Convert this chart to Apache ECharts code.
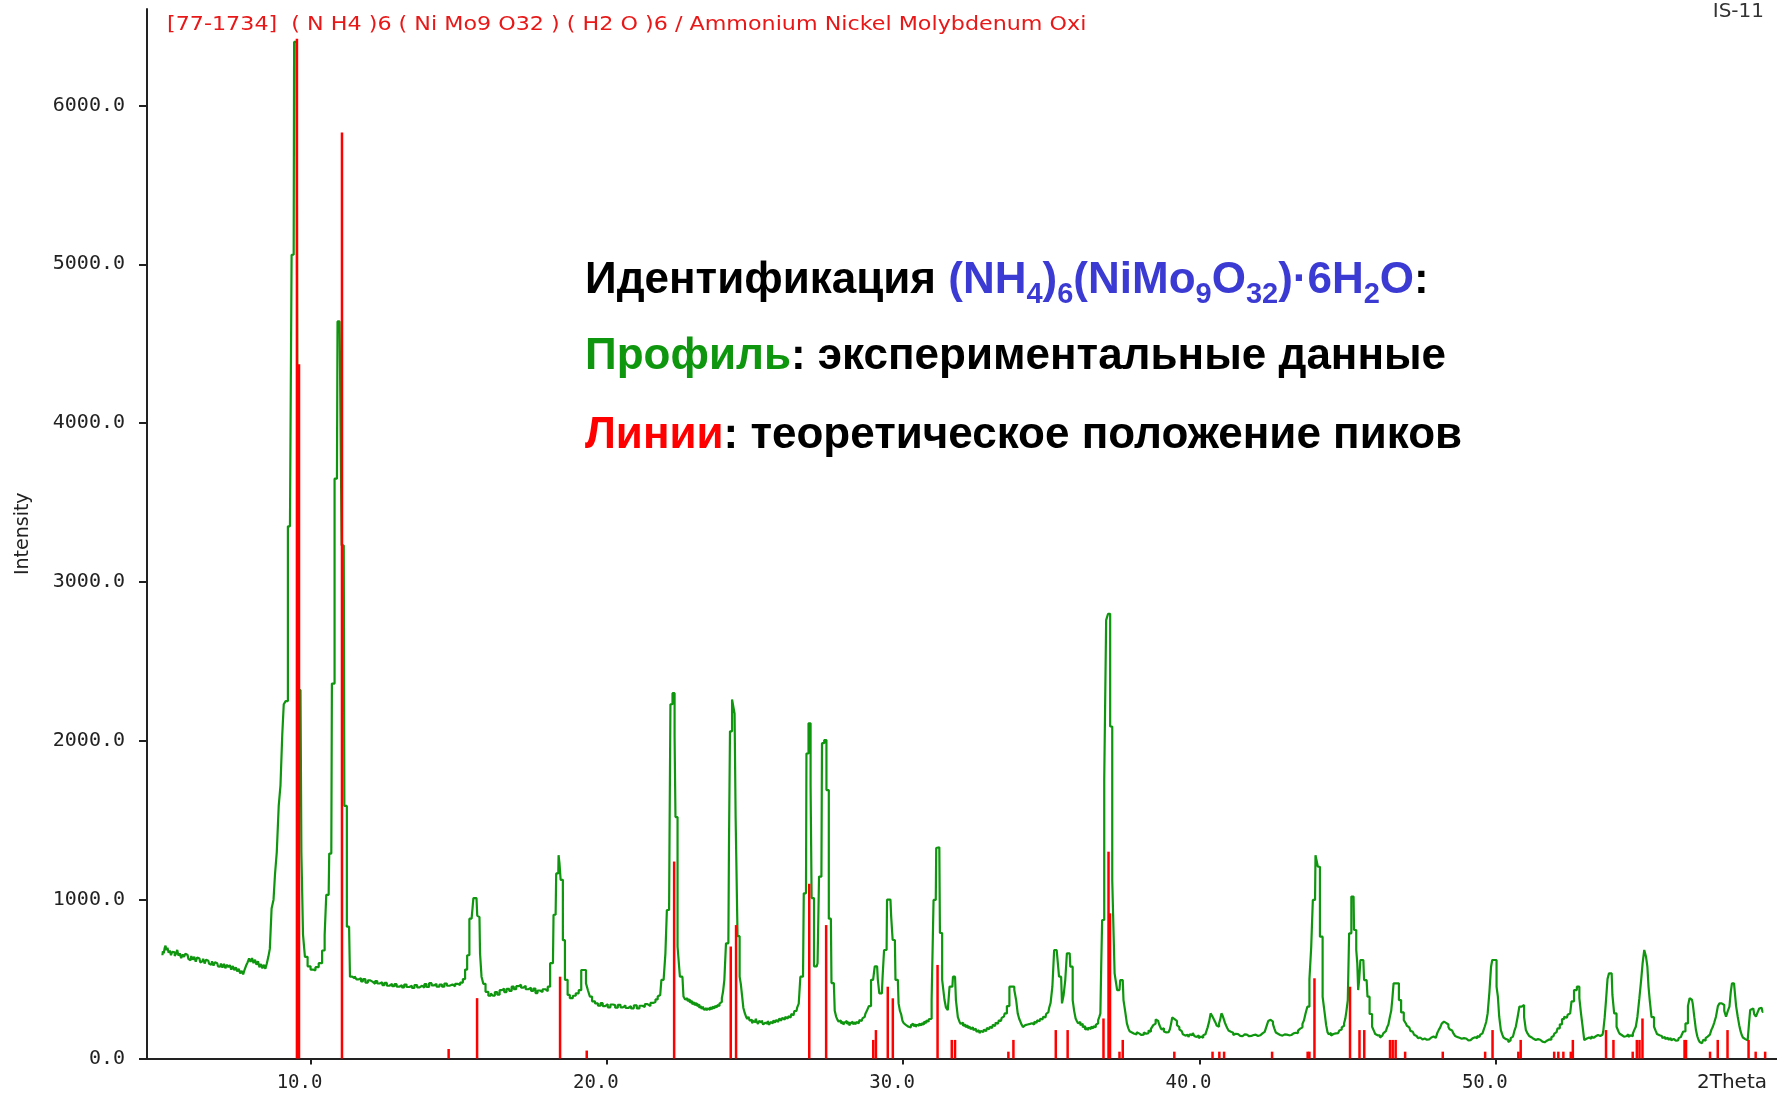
<!DOCTYPE html>
<html>
<head>
<meta charset="utf-8">
<script src="https://cdn.jsdelivr.net/npm/echarts@6/dist/echarts.min.js"></script>
<style>
  html, body { margin: 0; padding: 0; background: #fff; }
  #chart { width: 1777px; height: 1095px; }
</style>
</head>
<body>
<div id="chart"></div>
<script>
// Measured diffraction profile: [2θ, counts]
const profile = [
  [5.00,650],[5.03,675],[5.06,662],[5.09,695],[5.12,710],[5.15,682],[5.19,698],[5.23,665],[5.27,680],[5.31,650],
  [5.35,672],[5.39,668],[5.44,645],[5.48,660],[5.52,684],[5.56,648],[5.61,662],[5.66,632],[5.71,655],[5.75,640],
  [5.80,660],[5.85,652],[5.90,628],[5.95,618],[6.00,645],[6.05,622],[6.10,640],[6.15,610],[6.20,636],[6.25,630],
  [6.30,605],[6.35,612],[6.40,628],[6.45,598],[6.50,622],[6.55,616],[6.60,596],[6.65,590],[6.70,612],[6.75,585],
  [6.80,606],[6.85,600],[6.90,580],[6.95,578],[7.00,598],[7.05,572],[7.10,596],[7.15,568],[7.20,590],[7.25,575],
  [7.30,588],[7.35,560],[7.40,582],[7.45,556],[7.50,574],[7.55,548],[7.60,565],[7.65,535],[7.70,552],[7.75,530],
  [7.80,560],[7.85,585],[7.90,605],[7.95,630],[8.00,608],[8.05,632],[8.10,600],[8.15,622],[8.20,590],[8.25,612],
  [8.30,575],[8.35,595],[8.40,568],[8.45,590],[8.50,565],[8.55,600],[8.60,640],[8.65,690],
  [8.72,944],[8.78,1000],[8.82,1160],[8.90,1300],[8.95,1590],[9.02,1720],[9.07,2040],[9.12,2230],[9.20,2250],
  [9.27,3350],[9.34,3350],[9.38,5060],[9.43,5060],[9.46,6400],[9.53,6400],[9.57,4380],[9.60,2320],[9.66,2320],
  [9.72,1300],[9.77,780],[9.85,640],[9.95,580],[10.05,560],[10.11,555],[10.22,575],[10.33,600],[10.45,680],
  [10.50,775],[10.56,1030],[10.61,1030],[10.65,1290],[10.70,1290],[10.74,2360],[10.78,2360],[10.84,3650],
  [10.89,3650],[10.93,4640],[11.03,4640],[11.07,3230],[11.12,3230],[11.16,1590],[11.20,1590],[11.25,830],
  [11.30,830],[11.36,515],
  [11.45,505],[11.52,518],[11.58,498],[11.66,506],[11.74,486],[11.80,500],[11.90,478],[11.97,492],[12.06,482],
  [12.14,470],[12.22,488],[12.28,472],[12.38,480],[12.46,462],[12.53,476],[12.62,458],[12.70,470],[12.80,455],
  [12.86,468],[12.95,452],[13.04,462],[13.12,448],[13.20,466],[13.28,450],[13.38,458],[13.46,444],[13.55,462],
  [13.64,448],[13.72,458],[13.80,446],[13.88,468],[13.95,450],[14.05,474],[14.12,460],[14.20,470],[14.30,452],
  [14.40,466],[14.47,452],[14.56,472],[14.64,458],[14.74,466],[14.84,455],[14.92,470],[15.00,462],[15.10,478],
  [15.18,500],
  [15.25,560],[15.32,650],[15.40,880],[15.47,880],[15.52,1010],[15.60,1010],[15.65,900],[15.70,890],[15.74,660],
  [15.80,515],[15.86,470],[15.95,420],[16.05,395],
  [16.12,410],[16.18,396],[16.26,418],[16.34,402],[16.42,430],[16.50,440],[16.57,418],[16.66,438],[16.75,425],
  [16.82,452],[16.90,436],[16.98,455],[17.07,465],[17.14,446],[17.22,458],[17.30,436],[17.40,446],[17.48,426],
  [17.56,440],[17.62,412],[17.70,428],[17.78,418],[17.88,436],[17.96,424],[18.05,452],
  [18.12,600],[18.18,600],[18.22,905],[18.27,905],[18.31,1165],[18.36,1165],[18.38,1280],[18.42,1230],[18.46,1125],
  [18.50,1125],[18.53,745],[18.57,745],[18.60,495],[18.65,495],[18.70,400],[18.80,380],[18.90,395],[19.00,410],
  [19.10,430],[19.17,557],[19.27,557],[19.32,473],[19.40,430],[19.45,390],[19.55,360],[19.65,347],
  [19.75,332],[19.82,348],[19.90,330],[19.98,342],[20.08,322],[20.16,340],[20.24,336],[20.32,320],[20.42,338],
  [20.50,322],[20.58,334],[20.68,318],[20.76,330],[20.86,316],[20.96,334],[21.06,315],[21.14,332],[21.24,324],
  [21.32,342],[21.42,330],[21.52,350],[21.60,356],[21.68,372],[21.75,390],[21.80,400],
  [21.88,495],[21.95,495],[22.00,660],[22.05,935],[22.10,935],[22.13,1405],[22.16,2230],[22.20,2230],[22.23,2300],
  [22.27,2300],[22.30,2030],[22.33,1520],[22.37,1520],[22.40,705],[22.45,705],[22.48,515],[22.55,515],
  [22.62,390],[22.66,372],[22.70,380],[22.74,362],[22.78,372],[22.82,352],[22.86,362],[22.90,342],[22.94,354],
  [22.98,336],[23.02,348],[23.06,330],[23.10,340],[23.14,318],[23.18,332],[23.22,312],[23.26,326],[23.30,306],
  [23.34,318],[23.38,302],[23.42,316],[23.46,306],[23.50,322],[23.54,310],[23.58,326],[23.62,316],[23.66,330],
  [23.70,322],[23.74,336],[23.78,330],[23.82,346],[23.86,356],[23.90,380],[23.94,420],
  [23.99,495],[24.05,725],[24.10,725],[24.14,1320],[24.17,2060],[24.21,2060],[24.24,2260],[24.29,2260],[24.33,2170],
  [24.36,1520],[24.40,1520],[24.42,770],[24.46,770],[24.50,515],[24.54,470],
  [24.58,400],[24.63,320],[24.68,285],[24.72,262],[24.76,248],[24.80,262],[24.84,238],[24.88,244],[24.92,222],
  [24.96,236],[25.00,228],[25.04,250],[25.08,232],[25.12,218],[25.16,236],[25.20,226],[25.25,240],[25.30,214],
  [25.35,226],[25.40,218],[25.45,236],[25.50,212],[25.55,230],[25.60,222],[25.65,240],[25.70,226],[25.75,244],
  [25.80,230],[25.85,252],[25.90,238],[25.95,256],[26.00,244],[26.05,262],[26.10,250],[26.15,266],[26.20,258],
  [26.25,280],[26.30,272],[26.35,298],[26.40,300],[26.45,322],[26.50,345],
  [26.56,515],[26.62,515],[26.67,1040],[26.72,1040],[26.75,1920],[26.79,1920],[26.82,2110],[26.86,2110],[26.89,1720],
  [26.93,1010],[26.97,1010],[27.01,580],[27.08,580],[27.14,600],[27.18,1145],[27.24,1145],[27.28,1985],[27.32,1985],
  [27.35,2005],[27.39,2005],[27.43,1690],[27.47,1690],[27.51,880],[27.56,880],[27.60,475],[27.66,475],
  [27.72,300],[27.76,262],[27.80,245],[27.84,232],[27.88,240],[27.92,222],[27.96,230],[28.00,212],[28.04,226],
  [28.08,236],[28.12,218],[28.16,228],[28.20,208],[28.24,222],[28.28,232],[28.32,216],[28.36,228],[28.40,214],
  [28.45,230],[28.50,222],[28.55,242],[28.60,236],[28.65,252],[28.70,262],[28.75,282],[28.80,300],
  [28.88,330],[28.95,495],[29.02,495],[29.06,580],[29.12,580],[29.17,495],[29.22,410],[29.28,410],[29.33,515],
  [29.38,683],[29.44,683],[29.47,1000],[29.57,1000],[29.62,893],[29.67,746],[29.72,746],[29.76,495],[29.82,495],
  [29.87,347],[29.91,300],
  [29.95,280],[30.00,238],[30.04,222],[30.08,210],[30.12,218],[30.16,200],[30.20,212],[30.24,196],[30.28,210],
  [30.32,220],[30.36,204],[30.40,214],[30.44,198],[30.48,212],[30.52,206],[30.56,220],[30.60,208],[30.64,222],
  [30.68,214],[30.72,232],[30.76,224],[30.80,240],[30.84,232],[30.88,246],[30.92,250],
  [31.00,368],[31.05,998],[31.10,998],[31.13,1325],[31.22,1330],[31.26,790],[31.30,790],[31.33,495],[31.38,495],
  [31.41,368],[31.48,320],[31.53,305],[31.60,452],[31.66,452],[31.70,515],[31.75,515],[31.81,368],
  [31.88,260],[31.92,232],[31.96,218],[32.00,226],[32.04,206],[32.08,214],[32.12,198],[32.16,208],[32.20,192],
  [32.25,200],[32.30,184],[32.35,196],[32.40,178],[32.45,188],[32.50,168],[32.55,178],[32.60,160],[32.65,174],
  [32.70,166],[32.75,182],[32.80,172],[32.85,192],[32.90,184],[32.95,200],[33.00,192],[33.05,212],[33.10,204],
  [33.15,226],[33.20,218],[33.25,240],[33.30,236],[33.35,256],[33.40,264],[33.45,284],
  [33.55,330],[33.62,452],[33.72,452],[33.78,431],[33.84,370],[33.89,284],[33.94,250],
  [33.98,230],[34.02,212],[34.06,198],[34.10,210],[34.14,200],[34.18,214],[34.22,204],[34.26,218],[34.30,208],
  [34.35,222],[34.40,214],[34.45,232],[34.50,224],[34.55,240],[34.60,234],[34.65,250],[34.70,246],[34.75,262],
  [34.80,258],[34.85,280],[34.90,292],[34.95,318],[35.00,350],
  [35.07,452],[35.12,683],[35.24,683],[35.28,515],[35.33,515],[35.39,347],[35.44,400],[35.50,494],[35.55,662],
  [35.62,662],[35.66,578],[35.70,578],[35.74,368],
  [35.80,300],[35.84,252],[35.88,236],[35.92,222],[35.96,230],[36.00,210],[36.04,218],[36.08,196],[36.12,204],
  [36.16,182],[36.20,192],[36.24,178],[36.28,194],[36.32,186],[36.36,200],[36.40,190],[36.44,204],[36.48,196],
  [36.52,212],[36.56,222],[36.60,242],[36.64,262],
  [36.67,284],[36.70,600],[36.73,872],[36.77,872],[36.80,1754],[36.84,1754],[36.86,2760],[36.90,2760],[36.93,2800],
  [36.97,2800],[37.00,2090],[37.04,2090],[37.07,1124],[37.12,1124],[37.15,536],[37.20,536],[37.24,431],[37.30,431],
  [37.35,494],[37.41,494],[37.46,368],[37.52,300],
  [37.58,221],[37.62,190],[37.66,172],[37.70,164],[37.74,176],[37.78,156],[37.82,168],[37.86,152],[37.90,166],
  [37.94,158],[37.98,170],[38.02,148],[38.06,160],[38.10,150],[38.14,164],[38.18,156],[38.22,168],[38.26,160],
  [38.30,176],[38.34,168],[38.38,186],[38.42,190],[38.46,210],[38.50,220],[38.54,245],[38.58,238],[38.62,244],
  [38.66,214],[38.70,196],[38.74,182],[38.78,190],[38.82,170],[38.86,164],[38.90,154],[38.94,166],[38.98,172],
  [39.02,184],[39.06,218],[39.10,258],[39.14,262],[39.18,248],[39.22,236],[39.26,210],[39.30,198],[39.34,184],
  [39.38,172],[39.42,160],[39.46,152],[39.50,144],[39.55,138],[39.60,150],[39.65,136],[39.70,152],[39.75,146],
  [39.80,160],[39.85,142],[39.90,136],[39.95,146],[40.00,128],[40.05,138],[40.10,130],[40.15,146],[40.20,152],
  [40.25,168],[40.30,196],[40.35,232],[40.40,284],[40.44,270],[40.48,256],[40.52,240],[40.56,226],[40.60,208],
  [40.64,200],[40.68,220],[40.72,246],[40.76,284],[40.80,270],[40.84,248],[40.88,224],[40.92,206],[40.96,190],
  [41.00,176],[41.04,168],[41.08,156],[41.12,162],[41.16,148],[41.20,156],[41.25,144],[41.30,154],[41.35,142],
  [41.40,150],[41.45,140],[41.50,152],[41.55,144],[41.60,150],[41.65,140],[41.70,152],[41.75,142],[41.80,148],
  [41.85,138],[41.90,150],[41.95,142],[42.00,154],[42.05,146],[42.10,158],[42.15,154],[42.20,168],[42.25,182],
  [42.30,210],[42.34,236],[42.38,244],[42.42,240],[42.46,232],[42.50,216],[42.55,190],[42.60,164],[42.65,156],
  [42.70,148],[42.75,154],[42.80,144],[42.85,152],[42.90,142],[42.95,150],[43.00,146],[43.05,156],[43.10,148],
  [43.15,158],[43.20,152],[43.25,162],[43.30,160],[43.35,176],[43.40,188],[43.45,196],[43.50,218],[43.55,240],
  [43.60,280],
  [43.68,326],[43.74,500],[43.80,700],[43.85,998],[43.90,998],[43.93,1280],[43.98,1280],[44.01,1207],[44.05,1207],
  [44.08,767],[44.13,767],[44.18,389],
  [44.25,300],[44.30,210],[44.34,166],[44.38,152],[44.42,160],[44.46,144],[44.50,154],[44.54,146],[44.58,158],
  [44.62,148],[44.66,160],[44.70,162],[44.74,176],[44.78,182],[44.82,196],[44.86,206],[44.90,222],[44.94,250],
  [44.98,300],
  [45.03,368],[45.07,788],[45.11,788],[45.14,1020],[45.20,1020],[45.23,809],[45.27,809],[45.31,683],[45.34,600],
  [45.37,431],[45.41,500],[45.45,620],[45.53,620],[45.58,494],[45.64,494],[45.70,389],[45.78,280],
  [45.87,200],[45.91,172],[45.95,154],[45.99,146],[46.03,138],[46.07,146],[46.11,132],[46.15,144],[46.19,152],
  [46.23,160],[46.27,172],[46.31,180],[46.35,196],[46.40,214],[46.45,262],
  [46.49,300],[46.52,368],[46.58,473],[46.70,473],[46.76,368],[46.85,290],
  [46.94,242],[46.98,222],[47.02,206],[47.06,196],[47.10,184],[47.14,174],[47.18,168],[47.22,156],[47.26,150],
  [47.30,142],[47.35,136],[47.40,128],[47.45,132],[47.50,120],[47.55,116],[47.60,126],[47.65,118],[47.70,128],
  [47.75,120],[47.80,132],[47.85,124],[47.90,138],[47.95,130],[48.00,142],[48.05,160],[48.10,180],[48.15,196],
  [48.20,220],[48.25,232],[48.30,238],[48.34,224],[48.38,214],[48.42,198],[48.46,184],[48.50,176],[48.55,166],
  [48.60,156],[48.65,142],[48.70,136],[48.75,130],[48.80,138],[48.85,124],[48.90,128],[48.95,118],[49.00,126],
  [49.05,114],[49.10,122],[49.15,116],[49.20,128],[49.25,120],[49.30,134],[49.35,128],[49.40,142],[49.45,136],
  [49.50,150],[49.55,158],[49.60,172],[49.65,200],
  [49.70,230],[49.75,284],[49.82,420],[49.86,578],[49.90,620],[50.00,620],[50.05,452],[50.09,389],[50.14,263],
  [50.20,179],[50.24,150],[50.28,132],[50.32,122],[50.36,112],[50.40,118],[50.44,104],[50.48,114],[50.52,128],
  [50.56,138],[50.60,150],[50.65,172],[50.70,200],
  [50.77,260],[50.82,326],[50.93,337],[50.98,260],
  [51.05,179],[51.10,156],[51.15,142],[51.20,134],[51.25,124],[51.30,130],[51.35,116],[51.40,122],[51.45,110],
  [51.50,118],[51.55,106],[51.60,114],[51.65,102],[51.70,112],[51.75,108],[51.80,120],[51.85,118],[51.90,134],
  [51.95,142],[52.00,156],[52.05,166],
  [52.12,190],[52.20,215],[52.27,248],[52.34,263],[52.40,256],[52.45,275],[52.51,284],[52.60,360],[52.68,431],
  [52.79,452],[52.85,380],[52.90,284],[52.96,200],
  [53.01,116],[53.05,126],[53.10,118],[53.15,132],[53.20,124],[53.25,138],[53.30,130],[53.35,140],[53.40,134],
  [53.45,148],[53.50,142],[53.55,154],[53.60,150],[53.65,170],
  [53.70,260],[53.74,368],[53.80,500],[53.84,536],[53.91,536],[53.96,400],[54.03,284],
  [54.12,200],[54.16,170],[54.20,156],[54.25,148],[54.30,138],[54.35,150],[54.40,140],[54.45,152],[54.50,136],
  [54.55,146],[54.60,140],[54.65,156],[54.70,180],
  [54.75,200],[54.81,263],[54.88,380],[54.93,494],[54.98,600],[55.04,683],[55.10,640],[55.13,578],[55.18,450],
  [55.21,368],[55.30,260],
  [55.38,200],[55.42,172],[55.46,154],[55.50,146],[55.55,134],[55.60,142],[55.65,128],[55.70,136],[55.75,122],
  [55.80,132],[55.85,118],[55.90,128],[55.95,114],[56.00,124],[56.05,112],[56.10,122],[56.15,114],[56.20,128],
  [56.25,136],[56.30,150],
  [56.35,170],[56.45,221],[56.52,330],[56.56,379],[56.62,370],[56.67,347],[56.73,260],
  [56.78,179],[56.82,140],[56.86,118],[56.90,104],[56.94,96],[56.98,108],[57.02,118],[57.06,112],[57.10,128],
  [57.15,138],[57.20,150],[57.25,162],[57.30,180],[57.35,200],
  [57.40,228],[57.46,263],[57.53,330],[57.57,347],[57.68,337],[57.74,300],[57.80,263],[57.86,300],[57.91,326],
  [57.95,420],[57.99,473],[58.04,473],[58.08,431],[58.14,330],
  [58.19,263],[58.24,210],[58.28,172],[58.32,148],[58.36,132],[58.40,122],[58.44,126],[58.48,114],[58.52,118],
  [58.57,220],[58.60,305],[58.69,315],[58.75,280],[58.81,263],[58.86,290],[58.92,315],[58.97,320],[59.03,294]
];

// Reference card 77-1734 line positions: [2θ, intensity]
const cardLines = [
  [9.54,6420],[9.61,4370],[11.06,5830],[14.66,60],[15.62,380],[18.42,515],[19.32,50],[22.27,1240],
  [24.18,705],[24.36,840],[26.83,1100],[27.40,840],[28.99,117],[29.08,179],[29.48,452],[29.65,379],
  [31.16,589],[31.64,117],[31.75,117],[33.55,43],[33.72,117],[35.15,179],[35.55,179],[36.76,252],
  [36.93,1302],[36.98,914],[37.30,43],[37.41,117],[39.15,43],[40.44,43],[40.67,43],[40.83,43],
  [42.45,43],[43.65,43],[43.71,43],[43.88,505],[45.08,452],[45.40,179],[45.56,179],[46.43,117],
  [46.52,117],[46.62,117],[46.94,43],[48.21,43],[49.64,43],[49.89,179],[50.76,43],[50.84,117],
  [51.97,43],[52.11,43],[52.28,43],[52.53,43],[52.60,117],[53.72,179],[53.97,117],[54.62,43],
  [54.76,117],[54.85,117],[54.95,252],[56.37,117],[56.42,117],[57.23,43],[57.49,117],[57.82,179],
  [58.53,117],[58.77,43],[59.09,43]
];

const xTicks = [10, 20, 30, 40, 50];
const yTicks = [0, 1000, 2000, 3000, 4000, 5000, 6000];

const cardTitle = '[77-1734]  ( N H4 )6 ( Ni Mo9 O32 ) ( H2 O )6 / Ammonium Nickel Molybdenum Oxi';
const sampleId = 'IS-11';

const chart = echarts.init(document.getElementById('chart'));
const axisFont = 'DejaVu Sans Mono';
const bold = { fontFamily: 'Liberation Sans', fontWeight: 'bold', fontSize: 44 };

chart.setOption({
  animation: false,
  backgroundColor: '#ffffff',
  grid: { left: 147, right: 0, top: 9, bottom: 36.5, containLabel: false },
  xAxis: {
    type: 'value',
    min: 4.48,
    max: 59.49,
    name: '2Theta',
    nameLocation: 'end',
    nameGap: -80,
    nameTextStyle: { fontFamily: 'DejaVu Sans', fontSize: 20, color: '#222', verticalAlign: 'top', padding: [14, 0, 0, 0] },
    axisLine: { show: true, lineStyle: { color: '#222', width: 2 } },
    axisTick: { show: true, customValues: xTicks, length: 6, lineStyle: { color: '#222', width: 2 } },
    axisLabel: {
      customValues: xTicks,
      formatter: v => v.toFixed(1),
      fontFamily: axisFont, fontSize: 19, color: '#222', margin: 15,
      padding: [0, 22, 0, 0]
    },
    splitLine: { show: false }
  },
  yAxis: {
    type: 'value',
    min: 0,
    max: 6607,
    name: 'Intensity',
    nameLocation: 'middle',
    nameRotate: 90,
    nameGap: 114,
    nameTextStyle: { fontFamily: 'DejaVu Sans', fontSize: 19, color: '#222' },
    axisLine: { show: true, lineStyle: { color: '#222', width: 2 } },
    axisTick: { show: true, customValues: yTicks, length: 8, lineStyle: { color: '#222', width: 2 } },
    axisLabel: {
      customValues: yTicks,
      formatter: v => v.toFixed(1),
      fontFamily: axisFont, fontSize: 20, color: '#222', margin: 22
    },
    splitLine: { show: false }
  },
  series: [
    {
      name: 'Профиль',
      type: 'line',
      data: profile,
      step: 'middle',
      showSymbol: false,
      lineStyle: { color: '#0f960f', width: 2.2 },
      z: 2
    },
    {
      name: 'Линии',
      type: 'custom',
      data: cardLines,
      z: 3,
      renderItem: function (params, api) {
        const base = api.coord([api.value(0), 0]);
        const top = api.coord([api.value(0), api.value(1)]);
        return {
          type: 'line',
          shape: { x1: base[0], y1: base[1], x2: top[0], y2: top[1] },
          style: { stroke: '#ff0000', lineWidth: 2.5 }
        };
      }
    }
  ],
  graphic: [
    {
      type: 'text', x: 167, y: 25, scaleX: 1.17,
      style: { text: cardTitle, fill: '#e81818', font: '19px "DejaVu Sans"', verticalAlign: 'middle' }
    },
    {
      type: 'text', x: 1764, y: 12,
      style: { text: sampleId, fill: '#333', font: '20px "DejaVu Sans"', align: 'right', verticalAlign: 'middle' }
    },
    {
      type: 'text', x: 585, y: 284,
      style: {
        text: '{k|Идентификация }{f|(NH}{s|4}{f|)}{s|6}{f|(NiMo}{s|9}{f|O}{s|32}{f|)·6H}{s|2}{f|O}{k|:}',
        verticalAlign: 'middle',
        rich: {
          k: Object.assign({ fill: '#000', lineHeight: 50, verticalAlign: 'top' }, bold),
          f: Object.assign({ fill: '#3b3bd3', lineHeight: 50, verticalAlign: 'top' }, bold),
          s: { fill: '#3b3bd3', fontFamily: 'Liberation Sans', fontWeight: 'bold', fontSize: 29, lineHeight: 29, verticalAlign: 'bottom' }
        }
      }
    },
    {
      type: 'text', x: 585, y: 357,
      style: {
        text: '{g|Профиль}{k|: экспериментальные данные}',
        verticalAlign: 'middle',
        rich: {
          g: Object.assign({ fill: '#0f960f' }, bold),
          k: Object.assign({ fill: '#000' }, bold)
        }
      }
    },
    {
      type: 'text', x: 585, y: 436,
      style: {
        text: '{r|Линии}{k|: теоретическое положение пиков}',
        verticalAlign: 'middle',
        rich: {
          r: Object.assign({ fill: '#ff0000' }, bold),
          k: Object.assign({ fill: '#000' }, bold)
        }
      }
    }
  ]
});
</script>
</body>
</html>
